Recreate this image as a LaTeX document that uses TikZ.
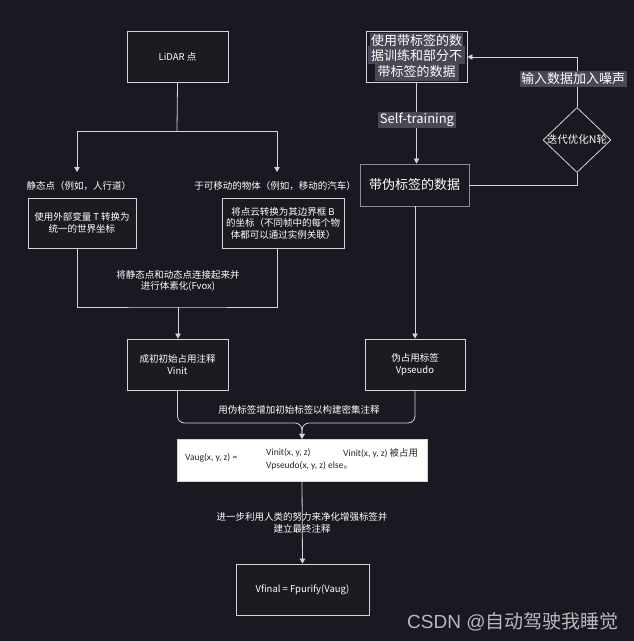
\documentclass[tikz,border=0pt]{standalone}
\usepackage{fontspec}
\setmainfont{Noto Sans CJK SC}
\newfontfamily\carl{Carlito}
\newfontfamily\lsans{Liberation Sans}
\usetikzlibrary{shapes.geometric,arrows.meta}
\definecolor{bg}{RGB}{26,24,33}
\definecolor{boxfill}{RGB}{28,27,34}
\definecolor{edge}{RGB}{212,212,218}
\definecolor{edgedim}{RGB}{140,140,146}
\definecolor{hl}{RGB}{72,72,86}
\definecolor{wm}{RGB}{185,185,190}
\definecolor{dark}{RGB}{40,40,40}
\newcommand{\fsm}{\fontsize{9.5}{11.5}\selectfont}
\newcommand{\fbig}{\fontsize{13}{16}\selectfont}
\newcommand{\hlt}[1]{\colorbox{hl}{#1}}
\begin{document}
\begin{tikzpicture}[x=1pt,y=-1pt,
  box/.style={draw=edge, line width=0.9pt, fill=boxfill, text=white, align=center, inner sep=0pt, font=\fsm},
  lbl/.style={text=white, align=center, inner sep=1pt, font=\fsm},
  ln/.style={draw=edge, line width=0.8pt},
  arr/.style={draw=edge, line width=0.8pt, -{Triangle[width=5.5pt,length=5pt]}},
  wtxt/.style={text=dark, anchor=west, inner sep=0pt, font=\carl\fontsize{9.5}{11}\selectfont}]
\useasboundingbox (0,0) rectangle (634,641);
\fill[bg] (0,0) rectangle (634,641);

% top row
\node[box, minimum width=101pt, minimum height=51pt] (lidar) at (177.5,56.5) {LiDAR 点};
\node[box, minimum width=101pt, minimum height=51pt, font=\fbig, fill=bg] (topr) at (416.5,57)
  {\setlength{\fboxsep}{1.2pt}\hlt{使用带标签的数}\\[-2.4pt]\hlt{据训练和部分不}\\[-2.4pt]\hlt{带标签的数据}};
\node[box, draw=edgedim, minimum width=109pt, minimum height=42pt, font=\fbig, fill=bg] (pseudo) at (414.5,185) {带伪标签的数据};
\node[draw=edge, line width=0.8pt, fill=bg, shape=diamond, minimum width=68pt, minimum height=65pt, inner sep=0pt] (dia) at (577,140) {};
\node[text=white, inner sep=0pt, font=\fontsize{10.5}{12}\selectfont] (diat) at (dia) {迭代优化N轮};

% split from LiDAR
\coordinate (split) at (177,131);
\coordinate (lx) at (77,131);
\coordinate (rx) at (277,131);
\coordinate (la) at (77,172);
\coordinate (ra) at (277,172);
\draw[ln] (lidar.south) -- (split);
\draw[arr] (split) -| (la);
\draw[arr] (split) -| (ra);

\node[lbl] (llab) at (79,186) {静态点（例如，人行道）};
\node[lbl] (rlab) at (275,186) {于可移动的物体（例如，移动的汽车）};

\node[box, minimum width=108pt, minimum height=50pt] (lbox) at (82,223)
  {使用外部变量 T 转换为\\统一的世界坐标};
\node[box, minimum width=122pt, minimum height=50pt] (rbox) at (283,223)
  {将点云转换为其边界框 B\\的坐标（不同帧中的每个物\\体都可以通过实例关联）};

% self-training
\draw[arr] (topr.south) -- (topr.south |- pseudo.north);
\node[text=white, fill=hl, inner sep=1.5pt, font=\fbig] (st) at (417,120) {Self-training};

% feedback loop
\coordinate (fb1) at (577,185);
\coordinate (fb2) at (577,57);
\draw[ln] (pseudo.east) -- (fb1) -- (dia.south);
\draw[arr] (dia.north) -- (fb2) -- (topr.east);
\node[text=white, fill=hl, inner sep=1.5pt, font=\fbig] (noise) at (573,79) {输入数据加入噪声};

% voxelization merge
\coordinate (vm) at (178,307);
\draw[ln] (lbox.south -| lx) |- (vm) -| (rbox.south -| rx);
\node[lbl] (vlab) at (178,281) {将静态点和动态点连接起来并\\进行体素化(Fvox)};

\node[box, minimum width=101pt, minimum height=51pt, font=\fontsize{9.5}{12}\selectfont] (vinit) at (177.5,364.5) {成初初始占用注释\\Vinit};
\node[box, minimum width=100pt, minimum height=51pt, font=\fontsize{9.5}{12}\selectfont] (vps) at (415,364.5) {伪占用标签\\Vpseudo};

\draw[arr] (vm) -- (vm |- vinit.north);
\draw[arr] (vps.north |- pseudo.south) -- (vps.north);

% white box
\node[draw=edge, fill=white, minimum width=250pt, minimum height=42pt, inner sep=0pt] (wbox) at (302,460) {};
\node[wtxt] (t1) at (185,458) {Vaug(x, y, z) =};
\node[wtxt] (t2) at (266,453) {Vinit(x, y, z)};
\node[wtxt] (t3) at (343,453) {Vinit(x, y, z) {\rmfamily 被占用}};
\node[wtxt] (t4) at (266,466) {Vpseudo(x, y, z) else{\rmfamily 。}};

\coordinate (mg) at (302,423);
\draw[arr, rounded corners=7pt] (vinit.south) |- (mg) -- (wbox.north);
\draw[arr, rounded corners=7pt] (vps.south) |- (mg) -- (wbox.north);
\node[lbl] (mlab) at (299,410) {用伪标签增加初始标签以构建密集注释};

% final
\node[box, minimum width=133pt, minimum height=51pt] (vfinal) at (302.5,589.5) {Vfinal = Fpurify(Vaug)};
\draw[arr] (wbox.south) -- (vfinal.north);
\node[lbl, font=\fontsize{9.5}{12}\selectfont] (flab) at (302,523) {进一步利用人类的努力来净化增强标签并\\建立最终注释};

% watermark
\node[text=wm, anchor=west, inner sep=0pt, font=\fontsize{19}{22}\selectfont] (wmk) at (407,622) {{\lsans CSDN @}自动驾驶我睡觉};
\end{tikzpicture}
\end{document}
